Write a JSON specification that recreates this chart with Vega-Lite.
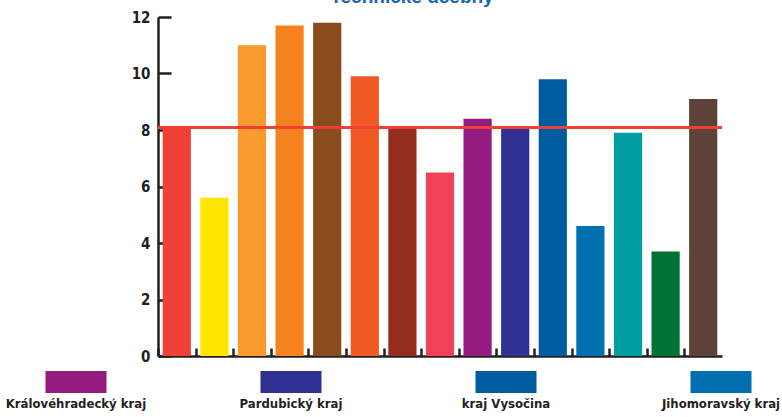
{
  "$schema": "https://vega.github.io/schema/vega-lite/v6.json",
  "width": 564,
  "height": 339,
  "autosize": {"type": "none"},
  "padding": {"left": 158, "top": 17, "right": 60, "bottom": 61},
  "background": "white",
  "config": {"view": {"stroke": null}, "font": "DejaVu Sans Condensed"},
  "title": {
    "text": "Technické učebny",
    "font": "Liberation Sans",
    "fontSize": 19,
    "fontWeight": "bold",
    "color": "#1565b8",
    "anchor": "middle",
    "baseline": "alphabetic",
    "dx": -28,
    "offset": 0,
    "dy": 12
  },
  "data": {
    "values": [
      {"kraj": "Česká republika", "hodnota": 8.1},
      {"kraj": "Hlavní město Praha", "hodnota": 5.6},
      {"kraj": "Středočeský kraj", "hodnota": 11.0},
      {"kraj": "Jihočeský kraj", "hodnota": 11.7},
      {"kraj": "Plzeňský kraj", "hodnota": 11.8},
      {"kraj": "Karlovarský kraj", "hodnota": 9.9},
      {"kraj": "Ústecký kraj", "hodnota": 8.1},
      {"kraj": "Liberecký kraj", "hodnota": 6.5},
      {"kraj": "Královéhradecký kraj", "hodnota": 8.4},
      {"kraj": "Pardubický kraj", "hodnota": 8.1},
      {"kraj": "kraj Vysočina", "hodnota": 9.8},
      {"kraj": "Jihomoravský kraj", "hodnota": 4.6},
      {"kraj": "Olomoucký kraj", "hodnota": 7.9},
      {"kraj": "Zlínský kraj", "hodnota": 3.7},
      {"kraj": "Moravskoslezský kraj", "hodnota": 9.1}
    ]
  },
  "layer": [
    {
      "mark": {"type": "bar"},
      "encoding": {
        "x": {
          "field": "kraj",
          "type": "nominal",
          "sort": null,
          "scale": {"paddingInner": 0.25, "paddingOuter": 0.125},
          "axis": {
            "title": null,
            "labels": false,
            "domainColor": "#231f20",
            "domainWidth": 2.5,
            "tickColor": "#231f20",
            "tickWidth": 2.5,
            "tickSize": -8,
            "bandPosition": 0,
            "tickOffset": -4.7
          }
        },
        "y": {
          "field": "hodnota",
          "type": "quantitative",
          "scale": {"domain": [0, 12], "nice": false},
          "axis": {
            "title": null,
            "values": [0, 2, 4, 6, 8, 10, 12],
            "grid": false,
            "domainColor": "#231f20",
            "domainWidth": 2.5,
            "tickColor": "#231f20",
            "tickWidth": 2.5,
            "tickSize": -13,
            "labelPadding": 21,
            "labelFont": "DejaVu Sans Condensed",
            "labelFontWeight": "bold",
            "labelFontSize": 15,
            "labelColor": "#231f20"
          }
        },
        "color": {
          "field": "kraj",
          "type": "nominal",
          "sort": null,
          "scale": {
            "domain": ["Česká republika", "Hlavní město Praha", "Středočeský kraj", "Jihočeský kraj", "Plzeňský kraj", "Karlovarský kraj", "Ústecký kraj", "Liberecký kraj", "Královéhradecký kraj", "Pardubický kraj", "kraj Vysočina", "Jihomoravský kraj", "Olomoucký kraj", "Zlínský kraj", "Moravskoslezský kraj"],
            "range": ["#ef4136", "#ffe600", "#f99a2c", "#f6821f", "#8a4b1e", "#f15a24", "#952d1e", "#f04358", "#951b81", "#2e3192", "#005ca1", "#0070b0", "#009ea0", "#007236", "#5c4238"]
          },
          "legend": null
        }
      }
    },
    {
      "mark": {"type": "rule", "color": "#ee4036", "strokeWidth": 2.5},
      "encoding": {"y": {"datum": 8.1}}
    },
    {
      "transform": [{"filter": {"field": "kraj", "oneOf": ["Královéhradecký kraj", "Pardubický kraj", "kraj Vysočina", "Jihomoravský kraj"]}}],
      "mark": {"type": "bar", "width": 61},
      "encoding": {
        "x": {
          "field": "kraj",
          "type": "nominal",
          "sort": null,
          "scale": {"domain": ["Královéhradecký kraj", "Pardubický kraj", "kraj Vysočina", "Jihomoravský kraj"], "range": [-189.5, 670.5], "paddingInner": 0, "paddingOuter": 0},
          "axis": null
        },
        "y": {"datum": -0.53},
        "y2": {"datum": -1.31},
        "color": {"field": "kraj", "type": "nominal", "sort": null, "legend": null}
      }
    },
    {
      "transform": [{"filter": {"field": "kraj", "oneOf": ["Královéhradecký kraj", "Pardubický kraj", "kraj Vysočina", "Jihomoravský kraj"]}}],
      "mark": {"type": "text", "font": "DejaVu Sans Condensed", "fontWeight": "bold", "fontSize": 13, "color": "#231f20", "baseline": "middle", "align": "center"},
      "encoding": {
        "x": {
          "field": "kraj",
          "type": "nominal",
          "sort": null,
          "scale": {"domain": ["Královéhradecký kraj", "Pardubický kraj", "kraj Vysočina", "Jihomoravský kraj"], "range": [-189.5, 670.5], "paddingInner": 0, "paddingOuter": 0},
          "axis": null
        },
        "y": {"datum": -1.7},
        "text": {"field": "kraj"}
      }
    }
  ],
  "resolve": {"scale": {"x": "independent"}}
}
